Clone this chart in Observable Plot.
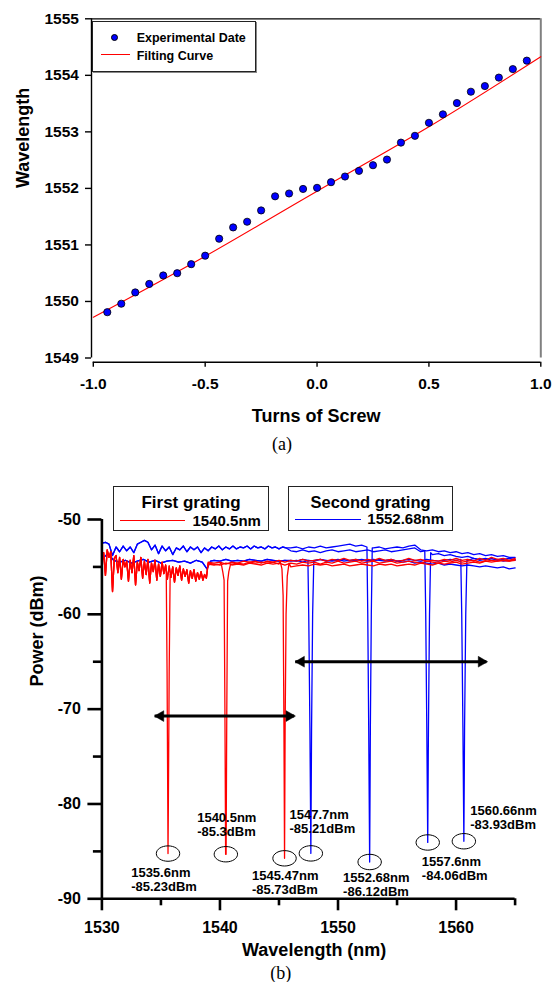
<!DOCTYPE html>
<html>
<head>
<meta charset="utf-8">
<script src="https://cdn.jsdelivr.net/npm/d3@7"></script>
<script src="https://cdn.jsdelivr.net/npm/@observablehq/plot@0.6"></script>
<style>
  html, body { margin: 0; padding: 0; background: #fff; }
  #page { position: relative; width: 555px; height: 982px; background: #fff; font-family: "Liberation Sans", Arial, Helvetica, sans-serif; color: #000; }
  .abs { position: absolute; white-space: nowrap; }
  .b { font-weight: bold; }
  .cap { font-family: "Liberation Serif", "Times New Roman", serif; font-size: 18px; text-align: center; line-height: 20px; }
</style>
</head>
<body>
<div id="page">
  <div id="chartA" class="abs" style="left:0;top:0"></div>
  <div id="chartB" class="abs" style="left:0;top:470px"></div>

  <!-- legend (a) -->
  <div class="abs" style="left:91.7px;top:20.7px;width:164px;height:51.5px;box-sizing:border-box;border:1px solid #222;box-shadow:1px 1px 0 #888;background:#fff"></div>
  <div class="abs" style="left:111px;top:34px;width:7.4px;height:7.4px;box-sizing:border-box;border-radius:50%;background:#0000ff;border:1px solid #000"></div>
  <div class="abs b" style="left:136.7px;top:31px;font-size:12.5px;line-height:14px">Experimental Date</div>
  <div class="abs" style="left:101px;top:54px;width:29px;height:1px;background:#ff0000"></div>
  <div class="abs b" style="left:136.7px;top:48.5px;font-size:12.5px;line-height:14px">Filting Curve</div>
  <div class="abs cap" style="left:0;width:564px;top:434px">(a)</div>

  <!-- legend (b) -->
  <div class="abs" style="left:113px;top:486px;width:156px;height:45px;box-sizing:border-box;border:1.2px solid #222;background:#fff"></div>
  <div class="abs b" style="left:113px;width:156px;text-align:center;top:492.7px;font-size:17px;line-height:20px">First grating</div>
  <div class="abs" style="left:120px;top:520px;width:65px;height:1px;background:#ff0000"></div>
  <div class="abs b" style="left:192.5px;top:512px;font-size:15px;line-height:18px">1540.5nm</div>
  <div class="abs" style="left:288px;top:486px;width:165px;height:45px;box-sizing:border-box;border:1.2px solid #222;background:#fff"></div>
  <div class="abs b" style="left:288px;width:165px;text-align:center;top:491.7px;font-size:16.5px;line-height:20px">Second grating</div>
  <div class="abs" style="left:295px;top:519px;width:66px;height:1px;background:#0000ff"></div>
  <div class="abs b" style="left:367.3px;top:510px;font-size:15px;line-height:18px">1552.68nm</div>
  <div class="abs cap" style="left:0;width:561.6px;top:963px">(b)</div>
</div>

<script>
// ---------------- Panel (a) data ----------------
const turns = [-0.9375,-0.875,-0.8125,-0.75,-0.6875,-0.625,-0.5625,-0.5,-0.4375,-0.375,-0.3125,-0.25,-0.1875,-0.125,-0.0625,0,0.0625,0.125,0.1875,0.25,0.3125,0.375,0.4375,0.5,0.5625,0.625,0.6875,0.75,0.8125,0.875,0.9375];
const wavelengthA = [1549.81,1549.96,1550.16,1550.31,1550.46,1550.50,1550.66,1550.81,1551.11,1551.31,1551.41,1551.61,1551.86,1551.91,1551.99,1552.01,1552.11,1552.21,1552.31,1552.41,1552.51,1552.81,1552.93,1553.16,1553.31,1553.51,1553.71,1553.81,1553.96,1554.11,1554.26];
const fitX = [-1, -0.5, 0, 0.5, 1];
const fitY = [1549.72, 1550.80, 1551.95, 1553.09, 1554.33];
const ticksXA = [-1, -0.5, 0, 0.5, 1];
const ticksYA = [1549, 1550, 1551, 1552, 1553, 1554, 1555];

// ---------------- Panel (b) data ----------------
// noisy red section shared by the three first-grating spectra
const redNoisy = [[1530.0,-54.6],[1530.15,-53.5],[1530.3,-55.9],[1530.45,-53.2],[1530.6,-54.0],[1530.75,-53.4],[1530.9,-57.6],[1531.05,-54.1],[1531.2,-53.8],[1531.35,-55.6],[1531.5,-54.0],[1531.65,-56.3],[1531.8,-54.2],[1531.95,-55.0],[1532.1,-54.4],[1532.25,-56.5],[1532.4,-54.3],[1532.55,-55.6],[1532.7,-53.8],[1532.85,-56.9],[1533.0,-54.5],[1533.15,-55.4],[1533.3,-54.0],[1533.45,-56.2],[1533.6,-54.4],[1533.75,-55.8],[1533.9,-54.2],[1534.05,-56.7],[1534.2,-54.6],[1534.35,-55.5],[1534.5,-54.3],[1534.65,-56.4],[1534.8,-54.7],[1534.95,-56.0],[1535.1,-54.5],[1535.25,-55.7],[1535.4,-54.8],[1535.55,-56.3],[1535.7,-54.9],[1535.85,-56.1],[1536.0,-55.0],[1536.15,-56.6],[1536.3,-55.1],[1536.45,-55.9],[1536.6,-54.9],[1536.75,-56.4],[1536.9,-55.2],[1537.05,-56.0],[1537.2,-55.3],[1537.35,-56.7],[1537.5,-55.4],[1537.65,-56.2],[1537.8,-55.3],[1537.95,-56.5],[1538.1,-55.6],[1538.25,-56.3],[1538.4,-55.5],[1538.55,-56.4],[1538.7,-55.8],[1538.85,-56.2]];
const redGridR = [1539,1539.5,1540,1540.5,1541,1541.5,1542,1542.5,1543,1543.5,1544,1544.5,1545,1545.5,1546,1546.5,1547,1547.5,1548,1548.5,1549,1549.5,1550,1550.5,1551,1551.5,1552,1552.5,1553,1553.5,1554,1554.5,1555,1555.5,1556,1556.5,1557,1557.5,1558,1558.5,1559,1559.5,1560,1560.5,1561,1561.5,1562,1562.5,1563,1563.5,1564,1564.5,1565];
const redA = [-54.5,-54.6,-54.5,-54.7,-54.5,-54.6,-54.4,-54.5,-54.4,-54.6,-54.4,-54.5,-54.3,-54.5,-54.3,-54.4,-54.2,-54.4,-54.3,-54.2,-54.4,-54.2,-54.3,-54.1,-54.3,-54.2,-54.4,-54.2,-54.3,-54.1,-54.3,-54.2,-54.4,-54.3,-54.1,-54.3,-54.2,-54.4,-54.3,-54.4,-54.2,-54.3,-54.1,-54.3,-54.2,-54.4,-54.1,-54.3,-54.0,-54.2,-54.1,-54.3,-54.1];
const redB = [-54.7,-54.8,-54.7,-54.9,-54.8,-54.7,-54.8,-54.6,-54.7,-54.8,-54.6,-54.7,-54.6,-54.8,-54.6,-54.7,-54.5,-54.6,-54.5,-54.7,-54.5,-54.6,-54.4,-54.6,-54.5,-54.4,-54.6,-54.5,-54.4,-54.6,-54.5,-54.4,-54.6,-54.5,-54.4,-54.5,-54.6,-54.4,-54.5,-54.6,-54.4,-54.5,-54.3,-54.5,-54.4,-54.3,-54.5,-54.4,-54.3,-54.4,-54.3,-54.4,-54.2];
const redC = [-54.6,-54.7,-54.8,-54.6,-54.7,-54.6,-54.7,-54.5,-54.6,-54.5,-54.6,-54.5,-54.7,-54.9,-55.0,-54.9,-54.8,-54.9,-54.7,-54.8,-54.7,-54.9,-54.8,-54.7,-54.9,-54.8,-54.7,-54.8,-54.9,-54.7,-54.8,-54.7,-54.9,-54.8,-54.7,-54.8,-54.6,-54.7,-54.8,-54.6,-54.7,-54.6,-54.5,-54.7,-54.6,-54.5,-54.6,-54.4,-54.5,-54.4,-54.3,-54.4,-54.3];

// blue left sections shared by the second-grating spectra
const blueUpperLeft = [[1530.0,-52.5],[1530.3,-52.4],[1530.6,-52.6],[1530.9,-53.8],[1531.2,-52.9],[1531.5,-53.4],[1531.8,-52.8],[1532.1,-53.3],[1532.4,-52.9],[1532.7,-53.5],[1533.0,-52.6],[1533.3,-52.4],[1533.6,-52.2],[1533.9,-52.4],[1534.2,-53.2],[1534.5,-52.7],[1534.8,-53.6],[1535.1,-52.8],[1535.4,-53.3],[1535.7,-52.9],[1536.0,-53.7],[1536.3,-53.0],[1536.6,-53.2],[1536.9,-52.8],[1537.2,-53.4],[1537.5,-52.9],[1537.8,-53.2],[1538.1,-52.9],[1538.4,-53.5],[1538.7,-53.0],[1539.0,-53.3],[1539.3,-52.9],[1539.6,-53.1],[1539.9,-52.8],[1540.2,-53.2],[1540.5,-52.9],[1540.8,-53.1],[1541.1,-52.8],[1541.4,-53.1],[1541.7,-52.9],[1542.0,-53.0],[1542.3,-52.8],[1542.6,-53.1],[1542.9,-52.8],[1543.2,-53.0],[1543.5,-52.9],[1543.8,-53.1],[1544.1,-52.8],[1544.4,-53.0],[1544.7,-52.9],[1545.0,-53.1],[1545.3,-52.9],[1545.6,-53.0]];
const blueLowerLeft = [[1530,-54.2],[1530.5,-53.6],[1531,-54.3],[1531.5,-54.5],[1532,-54.3],[1532.5,-54.6],[1533,-54.4],[1533.5,-54.2],[1534,-54.5],[1534.5,-54.3],[1535,-54.6],[1535.5,-54.4],[1536,-54.3],[1536.5,-54.5],[1537,-54.4],[1537.5,-54.6],[1538,-54.3],[1538.5,-54.5],[1538.9,-55.2],[1539.2,-54.4],[1539.5,-54.3],[1540,-54.4],[1540.5,-54.2],[1541,-54.4],[1541.5,-54.3],[1542,-54.4],[1542.5,-54.2],[1543,-54.3],[1543.5,-54.4],[1544,-54.2],[1544.5,-54.3],[1545,-54.4],[1545.5,-54.3]];
const blueGridR = [1546,1546.5,1547,1547.5,1548,1548.5,1549,1549.5,1550,1550.5,1551,1551.5,1552,1552.5,1553,1553.5,1554,1554.5,1555,1555.5,1556,1556.5,1557,1557.5,1558,1558.5,1559,1559.5,1560,1560.5,1561,1561.5,1562,1562.5,1563,1563.5,1564,1564.5,1565];
const blue1 = [-54.3,-54.4,-54.2,-54.4,-54.3,-54.2,-54.4,-54.3,-54.2,-54.4,-54.3,-54.2,-54.3,-54.4,-54.2,-54.3,-54.4,-54.3,-54.4,-54.5,-54.4,-54.6,-54.5,-54.6,-54.7,-54.6,-54.8,-54.7,-54.8,-54.9,-54.8,-54.9,-55.0,-54.9,-55.0,-55.1,-55.0,-55.2,-55.1];
const blue2 = [-53.0,-52.9,-53.1,-52.9,-53.0,-52.8,-53.0,-52.9,-52.8,-52.7,-52.6,-52.8,-52.7,-52.9,-53.0,-52.9,-53.1,-53.0,-52.9,-53.0,-52.8,-52.7,-53.2,-53.3,-53.2,-53.4,-53.3,-53.5,-53.4,-53.6,-53.5,-53.7,-53.6,-53.8,-53.7,-53.9,-53.8,-54.0,-54.0];
const blue3 = [-53.3,-53.4,-53.2,-53.4,-53.3,-53.5,-53.3,-53.2,-53.4,-53.3,-53.2,-53.4,-53.3,-53.2,-53.4,-53.3,-53.2,-53.4,-53.3,-53.2,-53.1,-53.0,-53.4,-53.6,-53.7,-53.6,-53.8,-53.7,-53.9,-54.0,-53.9,-54.1,-54.2,-54.1,-54.3,-54.2,-54.4,-54.3,-54.3];
const blue4 = [-54.4,-54.3,-54.5,-54.3,-54.4,-54.2,-54.3,-54.4,-54.3,-54.2,-54.4,-54.3,-54.2,-54.3,-54.4,-54.2,-54.3,-54.2,-54.4,-54.3,-54.2,-54.3,-54.4,-54.2,-54.3,-54.4,-54.3,-54.2,-54.3,-54.2,-54.3,-54.1,-54.3,-54.2,-54.1,-54.3,-54.2,-54.1,-54.2];

// reflection dips (wavelength nm, power dBm)
const dipR1 = [[1535.45,-55.6],[1535.52,-66],[1535.58,-80],[1535.6,-85.23],[1535.63,-80],[1535.7,-66],[1535.78,-55.8]];
const dipR2 = [[1540.1,-54.6],[1540.25,-55.6],[1540.35,-56.4],[1540.42,-70],[1540.48,-85.3],[1540.52,-85.3],[1540.58,-70],[1540.65,-56.5],[1540.75,-55.5],[1540.9,-54.7]];
const dipR3 = [[1545.1,-54.4],[1545.25,-55.2],[1545.35,-58],[1545.42,-72],[1545.47,-85.73],[1545.52,-72],[1545.6,-60],[1545.7,-56.0],[1545.85,-54.6]];
const dipB1 = [[1547.45,-54.3],[1547.52,-60],[1547.62,-72],[1547.7,-85.21],[1547.76,-72],[1547.85,-60],[1547.95,-54.3]];
const dipB2 = [[1552.45,-52.9],[1552.52,-60],[1552.6,-72],[1552.68,-86.12],[1552.74,-72],[1552.82,-60],[1552.9,-53.0]];
const dipB3 = [[1557.35,-53.3],[1557.43,-60],[1557.52,-72],[1557.6,-84.06],[1557.66,-72],[1557.75,-60],[1557.85,-53.5]];
const dipB4 = [[1560.4,-54.2],[1560.48,-60],[1560.58,-72],[1560.66,-83.93],[1560.72,-72],[1560.82,-60],[1560.92,-54.2]];

const dipWl = [1535.6, 1540.5, 1545.47, 1547.7, 1552.68, 1557.6, 1560.66];
const dipDb = [-85.23, -85.3, -85.73, -85.21, -86.12, -84.06, -83.93];
const labelX = [1532.48, 1538.07, 1542.71, 1545.89, 1550.43, 1557.10, 1561.20];
const labelY = [-87.94, -82.16, -88.25, -81.83, -88.49, -86.79, -81.43];

const arrowY  = [-65, -70.73];
const arrowX1 = [1546.42, 1534.51];
const arrowX2 = [1562.61, 1546.33];

const ticksXB = [1530, 1540, 1550, 1560];
const minorXB = [1535, 1545, 1555, 1565];
const ticksYB = [-90, -80, -70, -60, -50];
const minorYB = [-85, -75, -65, -55];

// ---------------- build ----------------
const FONT = '"Liberation Sans", Arial, Helvetica, sans-serif';
const pairs = (xs, ys) => xs.map((x, i) => [x, ys[i]]);
function trace(id, segments, dip) {
  const lo = dip[0][0], hi = dip[dip.length - 1][0];
  const base = segments.flat().filter(p => p[0] < lo || p[0] > hi);
  return base.concat(dip).sort((a, b) => a[0] - b[0]).map(([wl, db]) => ({id, wl, db}));
}

const redRows = [
  ...trace("R1", [redNoisy, pairs(redGridR, redA)], dipR1),
  ...trace("R2", [redNoisy, pairs(redGridR, redB)], dipR2),
  ...trace("R3", [redNoisy, pairs(redGridR, redC)], dipR3)
];
const blueRows = [
  ...trace("B1", [blueLowerLeft, pairs(blueGridR, blue1)], dipB1),
  ...trace("B2", [blueUpperLeft, pairs(blueGridR, blue2)], dipB2),
  ...trace("B3", [blueUpperLeft, pairs(blueGridR, blue3)], dipB3),
  ...trace("B4", [blueLowerLeft, pairs(blueGridR, blue4)], dipB4)
];
const dips = dipWl.map((wl, i) => ({wl, db: dipDb[i], lx: labelX[i], ly: labelY[i], text: `${wl}nm\n${dipDb[i]}dBm`}));
const arrows = arrowY.map((y, i) => ({y, x1: arrowX1[i], x2: arrowX2[i]}));

const ptsA = turns.map((t, i) => ({t, w: wavelengthA[i]}));
const fitA = fitX.map((t, i) => ({t, w: fitY[i]}));

const chartA = Plot.plot({
  width: 555, height: 430,
  marginLeft: 91, marginRight: 14.7, marginTop: 18.3, marginBottom: 68.3,
  style: {fontFamily: FONT, background: "transparent", color: "#000"},
  x: {domain: [-1, 1], insetLeft: 1.8},
  y: {domain: [1549, 1555], insetBottom: 4.2},
  marks: [
    Plot.ruleY([1555], {stroke: "#000", strokeWidth: 1.3}),
    Plot.ruleX([1], {y1: 1549, y2: 1555, stroke: "#808080", strokeWidth: 2}),
    Plot.ruleX([-1], {dx: -1.8, y1: 1549, y2: 1555, stroke: "#000", strokeWidth: 1.4}),
    Plot.ruleY([1549], {dy: 4.2, x1: -1, x2: 1, stroke: "#000", strokeWidth: 1.4}),
    Plot.axisY(ticksYA, {anchor: "left", tickSize: 6, tickPadding: 6.6, strokeWidth: 1.4, tickFormat: d => String(d), fontSize: 15.5, fontWeight: "bold", label: null}),
    Plot.axisX(ticksXA, {anchor: "bottom", tickSize: 5, tickPadding: 11, strokeWidth: 1.4, tickFormat: d => d.toFixed(1), fontSize: 15.5, fontWeight: "bold", label: null}),
    Plot.line(fitA, {x: "t", y: "w", stroke: "#ff0000", strokeWidth: 1.1, curve: "natural"}),
    Plot.dot(ptsA, {x: "t", y: "w", r: 3.6, fill: "#0000ff", stroke: "#000", strokeWidth: 0.8}),
    Plot.text(["Wavelength"], {frameAnchor: "left", dx: -68, dy: -2.5, rotate: -90, fontSize: 18, fontWeight: "bold", fill: "#000"}),
    Plot.text(["Turns of Screw"], {frameAnchor: "bottom", dy: 54.3, lineAnchor: "middle", fontSize: 18, fontWeight: "bold", fill: "#000"})
  ]
});
document.getElementById("chartA").appendChild(chartA);

const ellipse = {
  draw(ctx) {
    const rx = 11.7, ry = 7.7, k = 0.5523;
    ctx.moveTo(rx, 0);
    ctx.bezierCurveTo(rx, k * ry, k * rx, ry, 0, ry);
    ctx.bezierCurveTo(-k * rx, ry, -rx, k * ry, -rx, 0);
    ctx.bezierCurveTo(-rx, -k * ry, -k * rx, -ry, 0, -ry);
    ctx.bezierCurveTo(k * rx, -ry, rx, -k * ry, rx, 0);
    ctx.closePath();
  }
};

const chartB = Plot.plot({
  width: 555, height: 490,
  marginLeft: 101.4, marginRight: 40.4, marginTop: 49, marginBottom: 61.7,
  style: {fontFamily: FONT, background: "transparent", color: "#000"},
  x: {domain: [1530, 1565]},
  y: {domain: [-90, -50]},
  marks: [
    Plot.line(blueRows, {x: "wl", y: "db", z: "id", stroke: "#0000ff", strokeWidth: 1.3}),
    Plot.line(redRows, {x: "wl", y: "db", z: "id", stroke: "#ff0000", strokeWidth: 1.3}),
    Plot.ruleX([1530], {y1: -90, y2: -50, stroke: "#000", strokeWidth: 2.6}),
    Plot.ruleY([-90], {x1: 1530, x2: 1565, stroke: "#000", strokeWidth: 2.6}),
    Plot.axisY(ticksYB, {anchor: "left", tickSize: 14, tickPadding: 7, strokeWidth: 2.6, tickFormat: d => String(d), fontSize: 16, fontWeight: "bold", label: null}),
    Plot.axisY(minorYB, {anchor: "left", tickSize: 8.5, strokeWidth: 2.6, tickFormat: () => "", label: null}),
    Plot.axisX(ticksXB, {anchor: "bottom", tickSize: 12, tickPadding: 10.4, strokeWidth: 2.6, tickFormat: d => String(d), fontSize: 16, fontWeight: "bold", label: null}),
    Plot.axisX(minorXB, {anchor: "bottom", tickSize: 7, strokeWidth: 2.6, tickFormat: () => "", label: null}),
    Plot.dot(dips, {x: "wl", y: "db", symbol: ellipse, fill: "none", stroke: "#000", strokeWidth: 1}),
    Plot.text(dips, {x: "lx", y: "ly", text: "text", textAnchor: "start", lineAnchor: "middle", lineHeight: 1.08, fontSize: 13, fontWeight: "bold", fill: "#000"}),
    Plot.ruleY(arrows, {y: "y", x1: "x1", x2: "x2", stroke: "#000", strokeWidth: 3}),
    Plot.dot(arrows, {x: "x1", y: "y", symbol: "triangle", rotate: -90, r: 4, dx: 5.5, fill: "#000", stroke: "#000", strokeWidth: 0.5}),
    Plot.dot(arrows, {x: "x2", y: "y", symbol: "triangle", rotate: 90, r: 4, dx: -5.5, fill: "#000", stroke: "#000", strokeWidth: 0.5}),
    Plot.text(["Power (dBm)"], {frameAnchor: "left", dx: -64.4, dy: -22.6, rotate: -90, fontSize: 18, fontWeight: "bold", fill: "#000"}),
    Plot.text(["Wavelength (nm)"], {frameAnchor: "bottom", dx: 5.7, dy: 51.7, lineAnchor: "middle", fontSize: 18, fontWeight: "bold", fill: "#000"})
  ]
});
document.getElementById("chartB").appendChild(chartB);
</script>
</body>
</html>
